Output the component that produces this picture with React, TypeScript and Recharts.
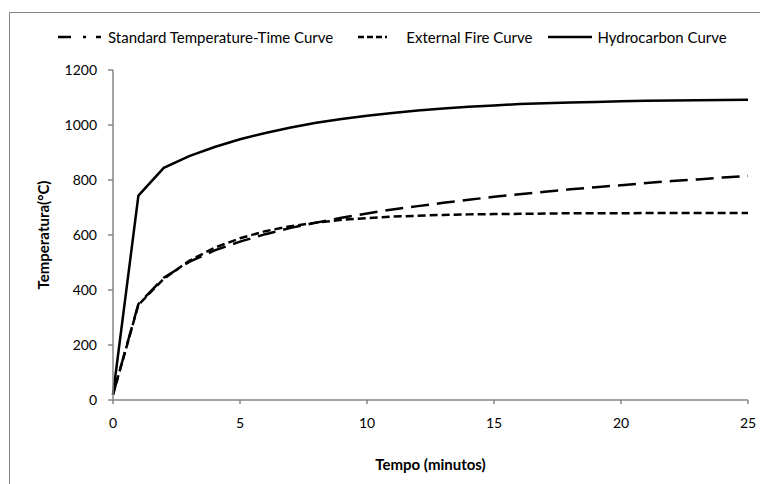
import React from 'react';
import { LineChart, Line, XAxis, YAxis, Legend } from 'recharts';

// Tempo em minutos
const minutes = [0, 1, 2, 3, 4, 5, 6, 7, 8, 9, 10, 11, 12, 13, 14, 15, 16, 17, 18, 19, 20, 21, 22, 23, 24, 25];

// Temperaturas (°C)
const standardCurve = [20, 349, 445, 502, 544, 576, 603, 626, 645, 663, 678, 693, 705, 717, 728, 739, 748, 757, 766, 774, 781, 789, 796, 802, 809, 815];
const externalFire = [20, 346, 441, 506, 554, 588, 614, 632, 645, 655, 661, 667, 670, 673, 675, 676, 677, 678, 679, 679, 679, 680, 680, 680, 680, 680];
const hydrocarbon = [20, 743, 844, 887, 920, 948, 971, 991, 1008, 1022, 1034, 1044, 1053, 1060, 1066, 1071, 1076, 1079, 1082, 1084, 1086, 1088, 1089, 1090, 1091, 1092];

const xTicks = [0, 5, 10, 15, 20, 25];
const yTicks = [0, 200, 400, 600, 800, 1000, 1200];

const data = minutes.map((t, i) => ({
  t,
  standard: standardCurve[i],
  external: externalFire[i],
  hydro: hydrocarbon[i],
}));

const FONT = 'Lato, "Open Sans", sans-serif';
const AXIS = '#868686';

const DASH_STANDARD = '18 8';
const DASH_EXTERNAL = '8 4';

const legendItems = [
  { key: 'standard', label: 'Standard Temperature-Time Curve', dash: '13 12 3 10 5 100', w: 44, gap: 6, after: 25 },
  { key: 'external', label: 'External Fire Curve', dash: '6 3 6 3 6 3 2 100', w: 42, gap: 6, after: 16 },
  { key: 'hydro', label: 'Hydrocarbon Curve', dash: undefined, w: 44, gap: 5, after: 0 },
];

// legenda desenhada à mão para reproduzir as amostras de linha
const LegendContent = () => (
  <div style={{ display: 'flex', alignItems: 'center', fontFamily: FONT, fontSize: 15, color: '#000', paddingLeft: 58 }}>
    {legendItems.map((it) => (
      <div key={it.key} style={{ display: 'flex', alignItems: 'center', marginRight: it.after }}>
        <svg width={it.w} height={10} style={{ marginRight: it.gap }}>
          <line x1={0} y1={5} x2={it.w} y2={5} stroke="#000" strokeWidth={2.5} strokeDasharray={it.dash} />
        </svg>
        <span style={{ whiteSpace: 'nowrap' }}>{it.label}</span>
      </div>
    ))}
  </div>
);

const YTitle = (props: any) => {
  const { viewBox } = props;
  const cx = 43;
  const cy = viewBox.y + viewBox.height / 2;
  return (
    <text x={cx} y={cy} transform={`rotate(-90 ${cx} ${cy})`} textAnchor="middle" dominantBaseline="central"
      fontFamily={FONT} fontSize={15} fontWeight={700} fill="#000">
      Temperatura(°C)
    </text>
  );
};

const XTitle = (props: any) => {
  const { viewBox } = props;
  const cx = viewBox.x + viewBox.width / 2;
  return (
    <text x={cx} y={464} textAnchor="middle" dominantBaseline="central"
      fontFamily={FONT} fontSize={15} fontWeight={700} fill="#000">
      Tempo (minutos)
    </text>
  );
};

export default function App() {
  return (
    <div style={{ position: 'fixed', left: 0, top: 0, width: 760, height: 484, background: '#fff', overflow: 'hidden' }}>
      <div style={{ position: 'absolute', left: 9, top: 12, width: 800, height: 520, border: `1px solid ${AXIS}` }} />
      <div style={{ position: 'absolute', left: 0, top: 0 }}>
        <LineChart width={760} height={484} data={data} margin={{ top: 70, right: 12, left: 43, bottom: 40 }}>
          <XAxis
            dataKey="t"
            type="number"
            domain={[0, 25]}
            ticks={xTicks}
            stroke={AXIS}
            strokeWidth={1.5}
            tickSize={4}
            tickMargin={14}
            height={44}
            tick={{ fontFamily: FONT, fontSize: 14, fill: '#000' }}
            label={<XTitle />}
          />
          <YAxis
            type="number"
            domain={[0, 1200]}
            ticks={yTicks}
            stroke={AXIS}
            strokeWidth={1.5}
            tickSize={5}
            tickMargin={11}
            width={70}
            tick={{ fontFamily: FONT, fontSize: 14, fill: '#000' }}
            label={<YTitle />}
          />
          <Legend verticalAlign="middle" align="center" content={<LegendContent />} wrapperStyle={{ top: 28, left: 0, width: 760 }} />
          <Line dataKey="standard" stroke="#000" strokeWidth={2.5} strokeDasharray={DASH_STANDARD} dot={false} isAnimationActive={false} />
          <Line dataKey="external" stroke="#000" strokeWidth={2.5} strokeDasharray={DASH_EXTERNAL} dot={false} isAnimationActive={false} />
          <Line dataKey="hydro" stroke="#000" strokeWidth={2.5} dot={false} isAnimationActive={false} />
        </LineChart>
      </div>
    </div>
  );
}
